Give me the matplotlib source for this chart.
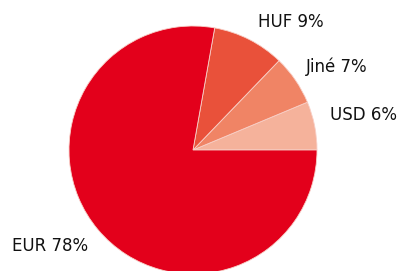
import matplotlib.pyplot as plt

# podíl měn
labels = ['USD 6%', 'Jiné 7%', 'HUF 9%', 'EUR 78%']
values = [6.3, 6.5, 9.4, 77.8]
colors = ['#f5b29b', '#f08465', '#e9513a', '#e3001b']

fig = plt.figure(figsize=(3.98, 2.71), dpi=100)
ax = fig.add_axes([0, 0, 1, 1])

wedges, texts = ax.pie(values, labels=labels, colors=colors, startangle=0,
                       counterclock=True, center=(193, 121), radius=124,
                       labeldistance=1.1, frame=True,
                       wedgeprops=dict(edgecolor='#f8d0c8', linewidth=0.6),
                       textprops=dict(fontsize=12, color='#111111'))
# posun popisků jako v předloze
shifts = [(3, 8), (0, 6), (3, 6), (0, -8)]
for t, (dx, dy) in zip(texts, shifts):
    x, y = t.get_position()
    t.set_position((x + dx, y + dy))
    t.set_ha('left' if x > 193 else 'right')
    t.set_va('center')

ax.set_xlim(0, 398)
ax.set_ylim(0, 271)
ax.set_aspect('equal')
ax.axis('off')

fig.savefig('out.png', dpi=100)
